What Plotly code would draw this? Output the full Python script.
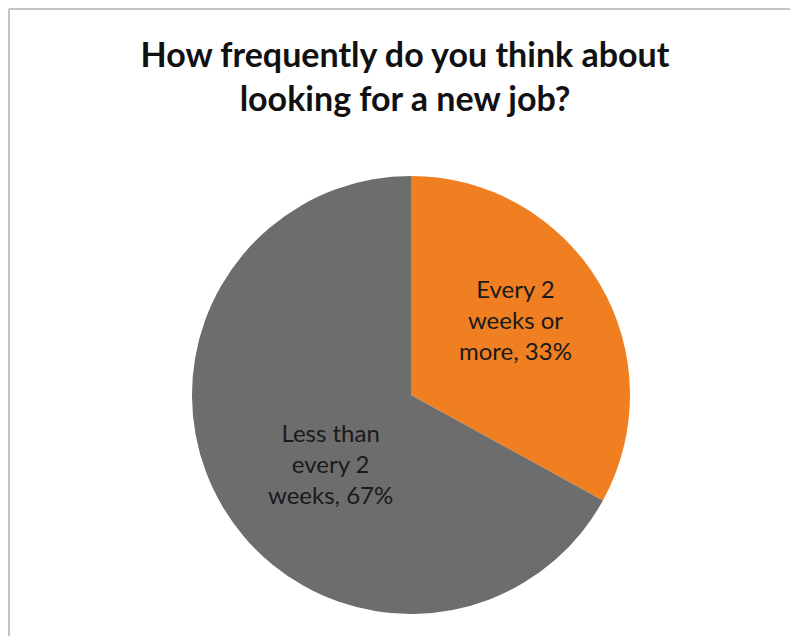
import plotly.graph_objects as go

labels = ["Every 2<br>weeks or<br>more", "Less than<br>every 2<br>weeks"]
values = [33, 67]
colors = ["#F07F22", "#6D6D6D"]
title_text = "How frequently do you think about<br>looking for a new job?"

# label anchor points (pixels)
label_pos = [(515, 319), (330, 464)]

W, H = 790, 636
cx, cy, r = 411, 395, 219

fig = go.Figure(go.Pie(
    labels=labels,
    values=values,
    sort=False,
    direction="clockwise",
    rotation=0,
    marker=dict(colors=colors, line=dict(width=0)),
    textinfo="none",
    hoverinfo="label+percent",
    showlegend=False,
    domain=dict(x=[(cx - r) / W, (cx + r) / W], y=[(H - cy - r) / H, (H - cy + r) / H]),
))

total = sum(values)
annotations = []
for lab, v, (px, py) in zip(labels, values, label_pos):
    annotations.append(dict(
        text=f"{lab}, {round(v / total * 100)}%",
        x=px / W, y=1 - py / H, xref="paper", yref="paper",
        xanchor="center", yanchor="middle", showarrow=False, align="center",
        font=dict(family="Lato, Open Sans, sans-serif", size=24, color="#1a1a1a"),
    ))

fig.update_layout(
    width=W, height=H,
    margin=dict(l=0, r=0, t=0, b=0),
    paper_bgcolor="white",
    plot_bgcolor="white",
    title=dict(
        text=title_text,
        x=405 / W, xanchor="center",
        y=1 - 67 / H, yanchor="middle",
        font=dict(family="Lato, Open Sans, sans-serif", size=34, color="#111111", weight="bold"),
    ),
    annotations=annotations,
    shapes=[
        dict(type="line", xref="paper", yref="paper", x0=9 / W, x1=1, y0=1 - 9 / H, y1=1 - 9 / H,
             line=dict(color="#C4C4C4", width=2)),
        dict(type="line", xref="paper", yref="paper", x0=9 / W, x1=9 / W, y0=0, y1=1 - 9 / H,
             line=dict(color="#C4C4C4", width=2)),
    ],
)

fig.write_html("out.html")
